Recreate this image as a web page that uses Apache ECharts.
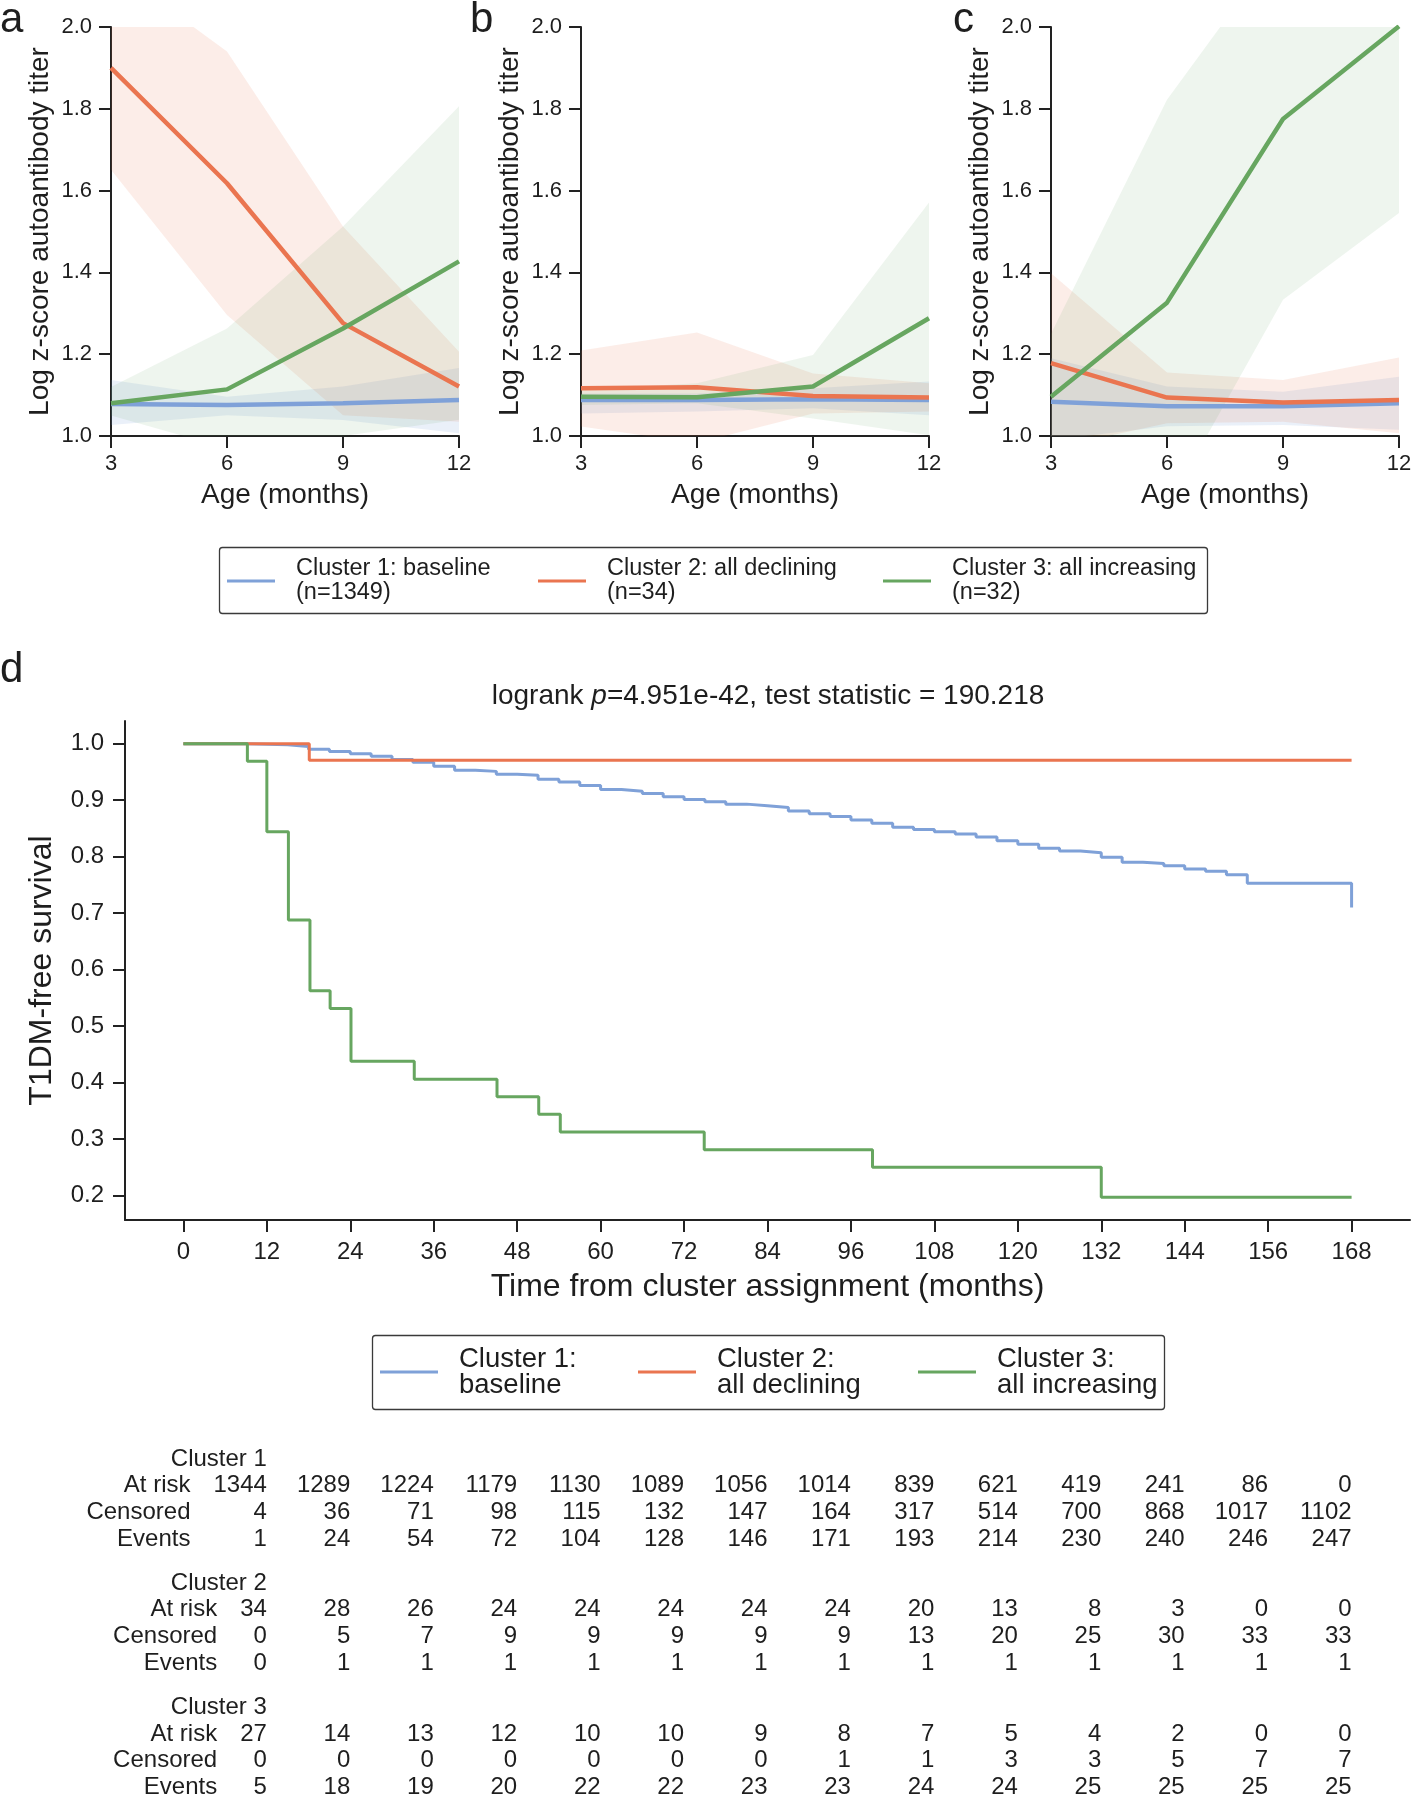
<!DOCTYPE html>
<html><head><meta charset="utf-8">
<script src="https://cdn.jsdelivr.net/npm/echarts@6/dist/echarts.min.js"></script>
<style>html,body{margin:0;padding:0;background:#fff}#c{width:1415px;height:1800px}</style>
</head><body><div id="c"></div>
<script>
// ---------------- data ----------------
const clusterNames = ['Cluster 1: baseline', 'Cluster 2: all declining', 'Cluster 3: all increasing'];
const clusterSizes = [1349, 34, 32];
const clusterColors = ['#7fa1d8', '#ea7550', '#67a660'];
const bandOpacity = [0.16, 0.13, 0.11];

const ageMonths = [3, 6, 9, 12];

// panel a (rows: cluster 1, 2, 3)
const aMean  = [[1.078, 1.076, 1.080, 1.088], [1.900, 1.618, 1.276, 1.121], [1.080, 1.114, 1.263, 1.427]];
const aLower = [[1.027, 1.051, 1.039, 1.007], [1.651, 1.296, 1.051, 1.035], [1.050, 0.970, 1.000, 1.040]];
const aUpper = [[1.137, 1.096, 1.121, 1.166], [2.148, 1.940, 1.512, 1.206], [1.120, 1.263, 1.512, 1.806]];
// panel b
const bMean  = [[1.088, 1.088, 1.090, 1.088], [1.117, 1.119, 1.098, 1.094], [1.096, 1.095, 1.121, 1.288]];
const bLower = [[1.055, 1.060, 1.068, 1.051], [1.023, 0.983, 1.055, 1.060], [1.076, 1.080, 1.043, 1.002]];
const bUpper = [[1.104, 1.104, 1.117, 1.133], [1.209, 1.253, 1.153, 1.129], [1.113, 1.129, 1.198, 1.571]];
// panel c
const cMean  = [[1.084, 1.073, 1.073, 1.080], [1.178, 1.094, 1.082, 1.088], [1.096, 1.326, 1.775, 2.002]];
const cLower = [[0.990, 1.024, 1.027, 1.015], [0.970, 1.031, 1.035, 1.007], [0.950, 0.826, 1.333, 1.545]];
const cUpper = [[1.190, 1.121, 1.108, 1.145], [1.398, 1.155, 1.137, 1.192], [1.250, 1.822, 2.210, 2.400]];

const topTicks = [1.0, 1.2, 1.4, 1.6, 1.8, 2.0];

// panel d: Kaplan-Meier curves
const km1Times = [0, 9, 12, 15, 18, 21, 24, 27, 30, 33, 36, 39, 42, 45, 48, 51, 54, 57, 60, 63, 66, 69, 72, 75, 78, 81, 84, 87, 90, 93, 96, 99, 102, 105, 108, 111, 114, 117, 120, 123, 126, 129, 132, 135, 138, 141, 144, 147, 150, 153, 168, 168];
const km1Surv  = [1, 0.999, 0.998, 0.995, 0.990, 0.986, 0.982, 0.978, 0.972, 0.967, 0.960, 0.953, 0.951, 0.946, 0.944, 0.937, 0.932, 0.926, 0.919, 0.916, 0.912, 0.906, 0.901, 0.897, 0.893, 0.890, 0.887, 0.881, 0.876, 0.871, 0.865, 0.859, 0.852, 0.848, 0.844, 0.840, 0.835, 0.828, 0.822, 0.815, 0.810, 0.807, 0.799, 0.790, 0.788, 0.784, 0.778, 0.774, 0.768, 0.753, 0.753, 0.710];
const km2Times = [0, 18.1, 168];
const km2Surv  = [1, 0.9706, 0.9706];
const km3Times = [0, 9.2, 12, 15.1, 18.2, 21.1, 24.1, 33.2, 45.1, 51.1, 54.2, 74.9, 99.1, 132, 168];
const km3Surv  = [1, 0.969, 0.844, 0.688, 0.5625, 0.531, 0.4375, 0.406, 0.375, 0.344, 0.3125, 0.281, 0.25, 0.197, 0.197];

const kmTicksX = [0, 12, 24, 36, 48, 60, 72, 84, 96, 108, 120, 132, 144, 156, 168];
const kmTicksY = [0.2, 0.3, 0.4, 0.5, 0.6, 0.7, 0.8, 0.9, 1.0];
const kmXRange = [-8.4, 176.4];
const kmYRange = [0.1566, 1.0402];

// at-risk table (columns at 12, 24, ..., 168 months)
const riskTimes = [12, 24, 36, 48, 60, 72, 84, 96, 108, 120, 132, 144, 156, 168];
const tableTitles = ['Cluster 1', 'Cluster 2', 'Cluster 3'];
const rowLabels = ['At risk', 'Censored', 'Events'];
const c1AtRisk   = [1344, 1289, 1224, 1179, 1130, 1089, 1056, 1014, 839, 621, 419, 241, 86, 0];
const c1Censored = [4, 36, 71, 98, 115, 132, 147, 164, 317, 514, 700, 868, 1017, 1102];
const c1Events   = [1, 24, 54, 72, 104, 128, 146, 171, 193, 214, 230, 240, 246, 247];
const c2AtRisk   = [34, 28, 26, 24, 24, 24, 24, 24, 20, 13, 8, 3, 0, 0];
const c2Censored = [0, 5, 7, 9, 9, 9, 9, 9, 13, 20, 25, 30, 33, 33];
const c2Events   = [0, 1, 1, 1, 1, 1, 1, 1, 1, 1, 1, 1, 1, 1];
const c3AtRisk   = [27, 14, 13, 12, 10, 10, 9, 8, 7, 5, 4, 2, 0, 0];
const c3Censored = [0, 0, 0, 0, 0, 0, 0, 1, 1, 3, 3, 5, 7, 7];
const c3Events   = [5, 18, 19, 20, 22, 22, 23, 23, 24, 24, 25, 25, 25, 25];

// ---------------- styling / layout ----------------
const FONT = '"Liberation Sans", Arial, Helvetica, sans-serif';
const TXT = '#1e1e1e';
const AX = '#222222';
const TABLE_FS = 24;
const ROW_STEP = 1;          // row unit on the table's y axis
const BLOCK_STEP = 4.65;     // rows between cluster blocks

const chart = echarts.init(document.getElementById('c'), null, {renderer: 'canvas'});

const grids = [
  {left: 111, top: 27, width: 348, height: 409},
  {left: 581, top: 27, width: 348, height: 409},
  {left: 1051, top: 27, width: 348, height: 409},
  {left: 125, top: 721, width: 1285, height: 499},
  {left: 125, top: 1459, width: 1285, height: 328.4}
];

const axisLineStyle = {color: AX, width: 2};
const xAxes = [], yAxes = [];
for (let p = 0; p < 3; p++) {
  xAxes.push({
    type: 'value', gridIndex: p, min: 3, max: 12, interval: 3,
    axisLine: {onZero: false, lineStyle: axisLineStyle},
    axisTick: {length: 12, lineStyle: axisLineStyle},
    axisLabel: {fontSize: 22, color: TXT, margin: 17, fontFamily: FONT},
    splitLine: {show: false},
    name: 'Age (months)', nameLocation: 'middle', nameGap: 45,
    nameTextStyle: {fontSize: 28, color: TXT, fontFamily: FONT}
  });
  yAxes.push({
    type: 'value', gridIndex: p, min: topTicks[0], max: topTicks[topTicks.length - 1], interval: 0.2,
    axisLine: {show: true, onZero: false, lineStyle: axisLineStyle},
    axisTick: {show: true, length: 12, lineStyle: axisLineStyle},
    axisLabel: {fontSize: 22, color: TXT, margin: 19, fontFamily: FONT, formatter: v => v.toFixed(1)},
    splitLine: {show: false},
    name: 'Log z-score autoantibody titer', nameLocation: 'middle', nameRotate: 90, nameGap: 57,
    nameTextStyle: {fontSize: 28, color: TXT, fontFamily: FONT}
  });
}
xAxes.push({
  type: 'value', gridIndex: 3, min: kmXRange[0], max: kmXRange[1],
  axisLine: {onZero: false, lineStyle: axisLineStyle},
  axisTick: {length: 12, lineStyle: axisLineStyle, customValues: kmTicksX},
  axisLabel: {fontSize: 24, color: TXT, margin: 20, fontFamily: FONT, customValues: kmTicksX},
  splitLine: {show: false},
  name: 'Time from cluster assignment (months)', nameLocation: 'middle', nameGap: 51,
  nameTextStyle: {fontSize: 32, color: TXT, fontFamily: FONT}
});
yAxes.push({
  type: 'value', gridIndex: 3, min: kmYRange[0], max: kmYRange[1],
  axisLine: {show: true, onZero: false, lineStyle: axisLineStyle},
  axisTick: {show: true, length: 12, lineStyle: axisLineStyle, customValues: kmTicksY},
  axisLabel: {fontSize: 24, color: TXT, margin: 21, fontFamily: FONT, customValues: kmTicksY, formatter: v => v.toFixed(1)},
  splitLine: {show: false},
  name: 'T1DM-free survival', nameLocation: 'middle', nameRotate: 90, nameGap: 67,
  nameTextStyle: {fontSize: 32, color: TXT, fontFamily: FONT}
});
// hidden axes for the at-risk table (same time scale as panel d)
xAxes.push({type: 'value', gridIndex: 4, min: kmXRange[0], max: kmXRange[1], show: false});
yAxes.push({type: 'value', gridIndex: 4, min: 0, max: 2 * BLOCK_STEP + 3 * ROW_STEP, inverse: true, show: false});

// ---------------- series ----------------
const series = [];
const panels = [[aMean, aLower, aUpper], [bMean, bLower, bUpper], [cMean, cLower, cUpper]];
panels.forEach(([mean, lower, upper], p) => {
  for (let k = 0; k < 3; k++) {
    const lo = lower[k], up = upper[k];
    series.push({
      type: 'custom', xAxisIndex: p, yAxisIndex: p, silent: true, z: 1, clip: true,
      data: [[ageMonths[0], lo[0]]],
      encode: {x: 0, y: 1},
      renderItem: (params, api) => {
        const pts = [];
        ageMonths.forEach((x, i) => pts.push(api.coord([x, up[i]])));
        for (let i = ageMonths.length - 1; i >= 0; i--) pts.push(api.coord([ageMonths[i], lo[i]]));
        const cs = params.coordSys;
        return {
          type: 'polygon', shape: {points: pts},
          style: {fill: clusterColors[k], opacity: bandOpacity[k]},
          clipPath: {type: 'rect', shape: {x: cs.x, y: cs.y, width: cs.width, height: cs.height}}
        };
      }
    });
  }
  for (let k = 0; k < 3; k++) {
    series.push({
      type: 'line', name: clusterNames[k], xAxisIndex: p, yAxisIndex: p, symbol: 'none', z: 3,
      itemStyle: {color: clusterColors[k]},
      lineStyle: {color: clusterColors[k], width: 4.5},
      data: ageMonths.map((x, i) => [x, mean[k][i]])
    });
  }
});

const kmSets = [[km1Times, km1Surv], [km2Times, km2Surv], [km3Times, km3Surv]];
kmSets.forEach(([t, s], k) => {
  series.push({
    type: 'line', name: clusterNames[k], xAxisIndex: 3, yAxisIndex: 3, step: 'end', symbol: 'none', z: 3,
    itemStyle: {color: clusterColors[k]},
    lineStyle: {color: clusterColors[k], width: 3},
    data: t.map((x, i) => [x, s[i]])
  });
});

// at-risk table as text-only points on the hidden axes (custom series, text anchored at the data point)
const tableBlocks = [[c1AtRisk, c1Censored, c1Events], [c2AtRisk, c2Censored, c2Events], [c3AtRisk, c3Censored, c3Events]];
const digitW = 0.556 * TABLE_FS;
const textSeries = (data, dx) => ({
  type: 'custom', xAxisIndex: 4, yAxisIndex: 4, silent: true,
  encode: {x: 0, y: 1},
  data: data,
  renderItem: (params, api) => {
    const pt = api.coord([api.value(0), api.value(1)]);
    return {
      type: 'text', x: pt[0] + dx, y: pt[1],
      style: {text: data[params.dataIndex][2], align: 'right', verticalAlign: 'middle',
              fontSize: TABLE_FS, fontFamily: FONT, fill: TXT}
    };
  }
});
tableBlocks.forEach((rows, b) => {
  const y0 = b * BLOCK_STEP;
  const cells = [], rowNames = [];
  rows.forEach((vals, r) => {
    const y = y0 + (r + 1) * ROW_STEP;
    rowNames.push([riskTimes[0], y, rowLabels[r]]);
    vals.forEach((v, i) => cells.push([riskTimes[i], y, String(v)]));
  });
  const firstColWidth = Math.max(...rows.map(r => String(r[0]).length)) * digitW;
  series.push(textSeries([[riskTimes[0], y0, tableTitles[b]]], 0));
  series.push(textSeries(cells, 0));
  series.push(textSeries(rowNames, -(firstColWidth + 23)));
});

// ---------------- legends ----------------
const legends = [];
const topLegendX = [227, 538, 883];
const dLegendX = [380, 638, 918];
for (let k = 0; k < 3; k++) {
  legends.push({
    data: [clusterNames[k]], left: topLegendX[k], top: 557, padding: 0, selectedMode: false,
    icon: 'rect', itemWidth: 48, itemHeight: 3,
    formatter: n => n + '\n(n=' + clusterSizes[k] + ')',
    textStyle: {fontSize: 23.5, lineHeight: 24, color: TXT, fontFamily: FONT, padding: [0, 0, 0, 16]}
  });
  legends.push({
    data: [clusterNames[k]], left: dLegendX[k], top: 1345, padding: 0, selectedMode: false,
    icon: 'rect', itemWidth: 58, itemHeight: 3,
    formatter: n => n.replace(': ', ':\n'),
    textStyle: {fontSize: 27.5, lineHeight: 26, color: TXT, fontFamily: FONT, padding: [0, 0, 0, 16]}
  });
}

// ---------------- annotations ----------------
const letter = (t, x, y) => ({type: 'text', x: x, y: y, style: {text: t, fontSize: 42, fontFamily: FONT, fill: TXT, verticalAlign: 'middle'}});
const graphic = [
  letter('a', 0, 20), letter('b', 470, 20), letter('c', 953, 20), letter('d', 0, 670),
  {type: 'text', x: 768, y: 696, style: {
    text: '{n|logrank }{i|p}{n|=4.951e-42, test statistic = 190.218}',
    align: 'center', verticalAlign: 'middle',
    rich: {n: {fontSize: 28, fontFamily: FONT, fill: TXT, color: TXT}, i: {fontSize: 28, fontFamily: FONT, fontStyle: 'italic', fill: TXT, color: TXT}}
  }},
  {type: 'rect', shape: {x: 219.5, y: 547.5, width: 988, height: 66, r: 3}, style: {fill: 'none', stroke: '#3a3a3a', lineWidth: 1.3}},
  {type: 'rect', shape: {x: 372.5, y: 1335.5, width: 792, height: 74, r: 3}, style: {fill: 'none', stroke: '#3a3a3a', lineWidth: 1.3}}
];

chart.setOption({
  animation: false,
  backgroundColor: '#ffffff',
  textStyle: {fontFamily: FONT},
  grid: grids,
  xAxis: xAxes,
  yAxis: yAxes,
  legend: legends,
  series: series,
  graphic: graphic
});
</script></body></html>
